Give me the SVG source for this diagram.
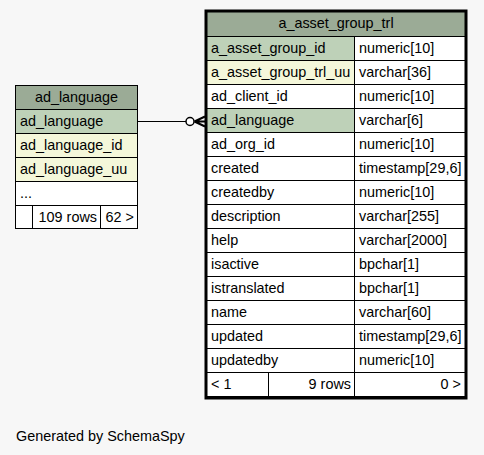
<svg xmlns="http://www.w3.org/2000/svg" width="484" height="455" viewBox="0 0 484 455">
<style>
text{font-family:"Liberation Sans",Arial,sans-serif;font-size:14.4px;fill:#000}
.h{fill:#9bab96;stroke:#000;stroke-width:1}
.pk{fill:#bed1b8;stroke:#000;stroke-width:1}
.ix{fill:#f4f7da;stroke:#000;stroke-width:1}
.w{fill:#fff;stroke:#000;stroke-width:1}
.m{text-anchor:middle}
.e{text-anchor:end}
</style>
<rect x="0" y="0" width="484" height="455" fill="#f7f7f7"/>
<g id="connectors" fill="none" stroke="#000" stroke-width="1">
<path d="M138,121.5 H186"/>
<circle cx="190" cy="121.5" r="4" fill="#fff" stroke-width="1.5"/>
<path d="M194.5,121.5 L205,116.5 M194.5,121.5 L205,126.5 M194.5,121.5 H205" stroke-width="2"/>
</g>
<g id="ad_language">
<rect class="h" x="15.5" y="85.5" width="122" height="24"/>
<text class="m" x="76.5" y="102">ad_language</text>
<rect class="pk" x="15.5" y="109.5" width="122" height="24"/>
<text x="20" y="126">ad_language</text>
<rect class="ix" x="15.5" y="133.5" width="122" height="24"/>
<text x="20" y="150">ad_language_id</text>
<rect class="ix" x="15.5" y="157.5" width="122" height="24"/>
<text x="20" y="174">ad_language_uu</text>
<rect class="w" x="15.5" y="181.5" width="122" height="24"/>
<text x="20" y="198">...</text>
<rect class="w" x="15.5" y="205.5" width="17" height="23"/>
<rect class="w" x="32.5" y="205.5" width="68" height="23"/>
<rect class="w" x="100.5" y="205.5" width="37" height="23"/>
<text class="e" x="97" y="222">109 rows</text>
<text class="e" x="134" y="222">62 &gt;</text>
</g>
<g id="a_asset_group_trl">
<rect class="h" x="206.5" y="11.5" width="259" height="25"/>
<text class="m" x="336" y="28">a_asset_group_trl</text>
<rect class="pk" x="206.5" y="36.5" width="148" height="24"/><rect class="w" x="354.5" y="36.5" width="111" height="24"/>
<text x="211" y="53">a_asset_group_id</text><text x="359" y="53">numeric[10]</text>
<rect class="ix" x="206.5" y="60.5" width="148" height="24"/><rect class="w" x="354.5" y="60.5" width="111" height="24"/>
<text x="211" y="77">a_asset_group_trl_uu</text><text x="359" y="77">varchar[36]</text>
<rect class="w" x="206.5" y="84.5" width="148" height="24"/><rect class="w" x="354.5" y="84.5" width="111" height="24"/>
<text x="211" y="101">ad_client_id</text><text x="359" y="101">numeric[10]</text>
<rect class="pk" x="206.5" y="108.5" width="148" height="24"/><rect class="w" x="354.5" y="108.5" width="111" height="24"/>
<text x="211" y="125">ad_language</text><text x="359" y="125">varchar[6]</text>
<rect class="w" x="206.5" y="132.5" width="148" height="24"/><rect class="w" x="354.5" y="132.5" width="111" height="24"/>
<text x="211" y="149">ad_org_id</text><text x="359" y="149">numeric[10]</text>
<rect class="w" x="206.5" y="156.5" width="148" height="24"/><rect class="w" x="354.5" y="156.5" width="111" height="24"/>
<text x="211" y="173">created</text><text x="359" y="173">timestamp[29,6]</text>
<rect class="w" x="206.5" y="180.5" width="148" height="24"/><rect class="w" x="354.5" y="180.5" width="111" height="24"/>
<text x="211" y="197">createdby</text><text x="359" y="197">numeric[10]</text>
<rect class="w" x="206.5" y="204.5" width="148" height="24"/><rect class="w" x="354.5" y="204.5" width="111" height="24"/>
<text x="211" y="221">description</text><text x="359" y="221">varchar[255]</text>
<rect class="w" x="206.5" y="228.5" width="148" height="24"/><rect class="w" x="354.5" y="228.5" width="111" height="24"/>
<text x="211" y="245">help</text><text x="359" y="245">varchar[2000]</text>
<rect class="w" x="206.5" y="252.5" width="148" height="24"/><rect class="w" x="354.5" y="252.5" width="111" height="24"/>
<text x="211" y="269">isactive</text><text x="359" y="269">bpchar[1]</text>
<rect class="w" x="206.5" y="276.5" width="148" height="24"/><rect class="w" x="354.5" y="276.5" width="111" height="24"/>
<text x="211" y="293">istranslated</text><text x="359" y="293">bpchar[1]</text>
<rect class="w" x="206.5" y="300.5" width="148" height="24"/><rect class="w" x="354.5" y="300.5" width="111" height="24"/>
<text x="211" y="317">name</text><text x="359" y="317">varchar[60]</text>
<rect class="w" x="206.5" y="324.5" width="148" height="24"/><rect class="w" x="354.5" y="324.5" width="111" height="24"/>
<text x="211" y="341">updated</text><text x="359" y="341">timestamp[29,6]</text>
<rect class="w" x="206.5" y="348.5" width="148" height="24"/><rect class="w" x="354.5" y="348.5" width="111" height="24"/>
<text x="211" y="365">updatedby</text><text x="359" y="365">numeric[10]</text>
<rect class="w" x="206.5" y="372.5" width="62" height="24"/><rect class="w" x="268.5" y="372.5" width="86" height="24"/><rect class="w" x="354.5" y="372.5" width="111" height="24"/>
<text x="211" y="389">&lt; 1</text><text class="e" x="351" y="389">9 rows</text><text class="e" x="461" y="389">0 &gt;</text>
<rect x="206" y="11" width="260" height="387" fill="none" stroke="#000" stroke-width="3"/>
</g>
<text x="16" y="441">Generated by SchemaSpy</text>
</svg>
